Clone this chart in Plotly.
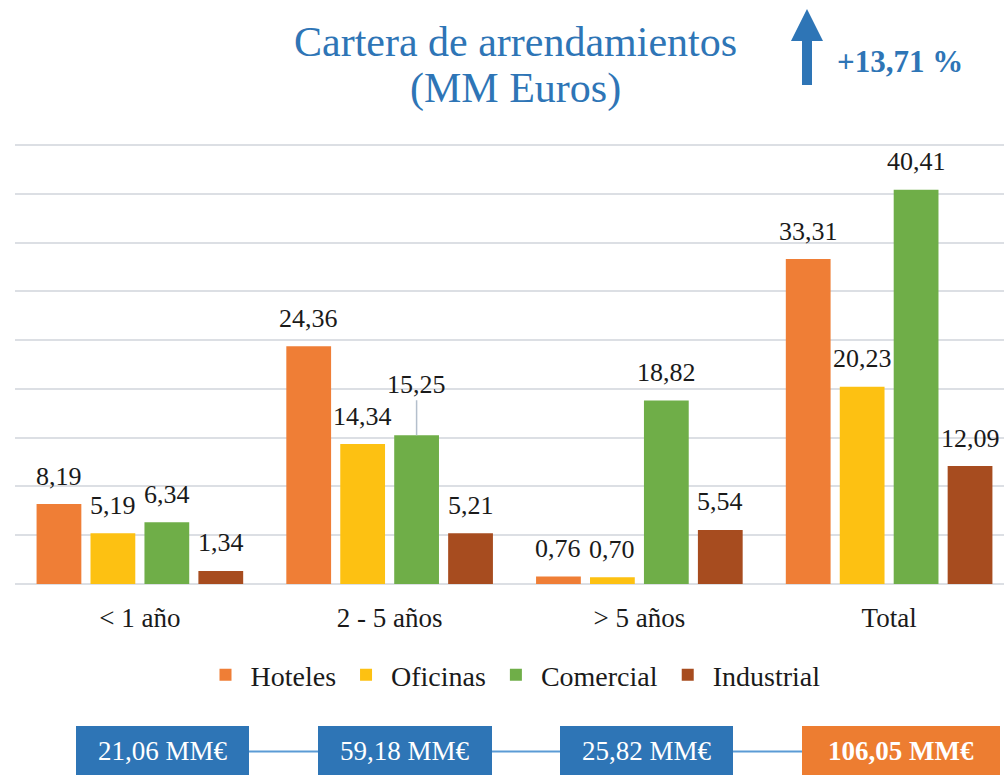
import plotly.graph_objects as go

# ---------------- data ----------------
categories = ["< 1 año", "2 - 5 años", "> 5 años", "Total"]
hoteles = [8.19, 24.36, 0.76, 33.31]
oficinas = [5.19, 14.34, 0.70, 20.23]
comercial = [6.34, 15.25, 18.82, 40.41]
industrial = [1.34, 5.21, 5.54, 12.09]
series_names = ["Hoteles", "Oficinas", "Comercial", "Industrial"]
category_totals = ["21,06 MM€", "59,18 MM€", "25,82 MM€", "106,05 MM€"]
growth_text = "+13,71 %"
title_lines = ["Cartera de arrendamientos", "(MM Euros)"]

# ---------------- styling ----------------
W, H = 1004, 775
ML, MR, MT, MB = 15, 0, 141, 191
PW, PH = W - ML - MR, H - MT - MB
UNIT = 439 / 45.0          # px per value unit (0 at y=584, 45 at y=145)
YMAX = PH / UNIT
FONT = "Liberation Serif"
BLUE = "#2E75B6"
TXT = "#1a1a1a"
colors = ["#EF7E36", "#FDC112", "#6FAE48", "#A74C1F"]


def px2x(px):
    return (px - ML) / PW


def py2y(py):
    return (H - MB - py) / PH


fig = go.Figure()
all_series = [hoteles, oficinas, comercial, industrial]
for name, vals, col in zip(series_names, all_series, colors):
    fig.add_trace(go.Bar(
        name=name, x=categories, y=vals,
        marker=dict(color=col, line=dict(width=0)),
        hoverinfo="x+y+name",
    ))

bargap = 0.136
slot = (1 - bargap) / 4
annotations = []
for k, vals in enumerate(all_series):
    for i, v in enumerate(vals):
        xpos = i + (k - 1.5) * slot
        label = f"{v:.2f}".replace(".", ",")
        if series_names[k] == "Comercial" and categories[i] == "2 - 5 años":
            annotations.append(dict(
                x=xpos, y=v, xref="x", yref="y", text=label,
                showarrow=True, arrowhead=0, arrowwidth=1.5,
                arrowcolor="#B4BFCC", ax=0, ay=-51, standoff=0,
                xanchor="center",
                font=dict(family=FONT, size=26, color=TXT),
            ))
        else:
            annotations.append(dict(
                x=xpos, y=v, xref="x", yref="y", text=label,
                showarrow=False, xanchor="center", yanchor="middle", yshift=28,
                font=dict(family=FONT, size=26, color=TXT),
            ))

# title
annotations.append(dict(x=px2x(515), y=py2y(42), xref="paper", yref="paper",
                        text=title_lines[0], showarrow=False,
                        xanchor="center", yanchor="middle",
                        font=dict(family=FONT, size=42, color=BLUE)))
annotations.append(dict(x=px2x(515), y=py2y(88), xref="paper", yref="paper",
                        text=title_lines[1], showarrow=False,
                        xanchor="center", yanchor="middle",
                        font=dict(family=FONT, size=42, color=BLUE)))
# growth
annotations.append(dict(x=px2x(835), y=py2y(61), xref="paper", yref="paper",
                        text="<b>" + growth_text + "</b>", showarrow=False,
                        xanchor="left", yanchor="middle",
                        font=dict(family=FONT, size=31, color=BLUE)))

shapes = []
# arrow
arrow_pts = [(807, 9), (823, 41), (812, 41), (812, 85), (802, 85), (802, 41), (791, 41)]
path = "M " + " L ".join(f"{px2x(a):.5f},{py2y(b):.5f}" for a, b in arrow_pts) + " Z"
shapes.append(dict(type="path", path=path, xref="paper", yref="paper",
                   fillcolor=BLUE, line=dict(width=0)))

# bottom boxes
boxes = [(76, 249), (318, 492), (560, 733), (802, 1000)]
box_colors = [BLUE, BLUE, BLUE, "#ED7D31"]
for (a, b), (c, d) in zip(boxes[:-1], boxes[1:]):
    shapes.append(dict(type="line", xref="paper", yref="paper",
                       x0=px2x(b), x1=px2x(c), y0=py2y(751.5), y1=py2y(751.5),
                       line=dict(color="#5B9BD5", width=2)))
for (a, b), col, txt in zip(boxes, box_colors, category_totals):
    shapes.append(dict(type="rect", xref="paper", yref="paper",
                       x0=px2x(a), x1=px2x(b), y0=py2y(726), y1=py2y(790),
                       fillcolor=col, line=dict(width=0)))
    t = "<b>" + txt + "</b>" if col != BLUE else txt
    annotations.append(dict(x=px2x((a + b) / 2), y=py2y(751), xref="paper", yref="paper",
                            text=t, showarrow=False, xanchor="center", yanchor="middle",
                            font=dict(family=FONT, size=27, color="white")))

fig.update_layout(
    width=W, height=H,
    margin=dict(l=ML, r=MR, t=MT, b=MB),
    paper_bgcolor="white", plot_bgcolor="white",
    barmode="group", bargap=bargap, bargroupgap=0.17,
    font=dict(family=FONT, size=26, color=TXT),
    showlegend=True,
    legend=dict(orientation="h", x=px2x(513), xanchor="center",
                y=py2y(675), yanchor="middle", itemwidth=40,
                font=dict(family=FONT, size=28, color=TXT),
                bgcolor="rgba(0,0,0,0)", itemclick=False),
    xaxis=dict(type="category", categoryorder="array", categoryarray=categories,
               range=[-0.5, 3.46], showgrid=False, showline=False, zeroline=False,
               ticks="", ticklabelstandoff=15,
               tickfont=dict(family=FONT, size=27, color=TXT), fixedrange=True),
    yaxis=dict(range=[0, YMAX], dtick=5, showticklabels=False, showgrid=True,
               gridcolor="#DCDFE4", gridwidth=1.5, zeroline=True,
               zerolinecolor="#DCDFE4", zerolinewidth=1.5, showline=False, fixedrange=True),
    annotations=annotations,
    shapes=shapes,
)

fig.write_html("out.html", config={"displayModeBar": False},
               post_script="document.body.style.margin='0';")
